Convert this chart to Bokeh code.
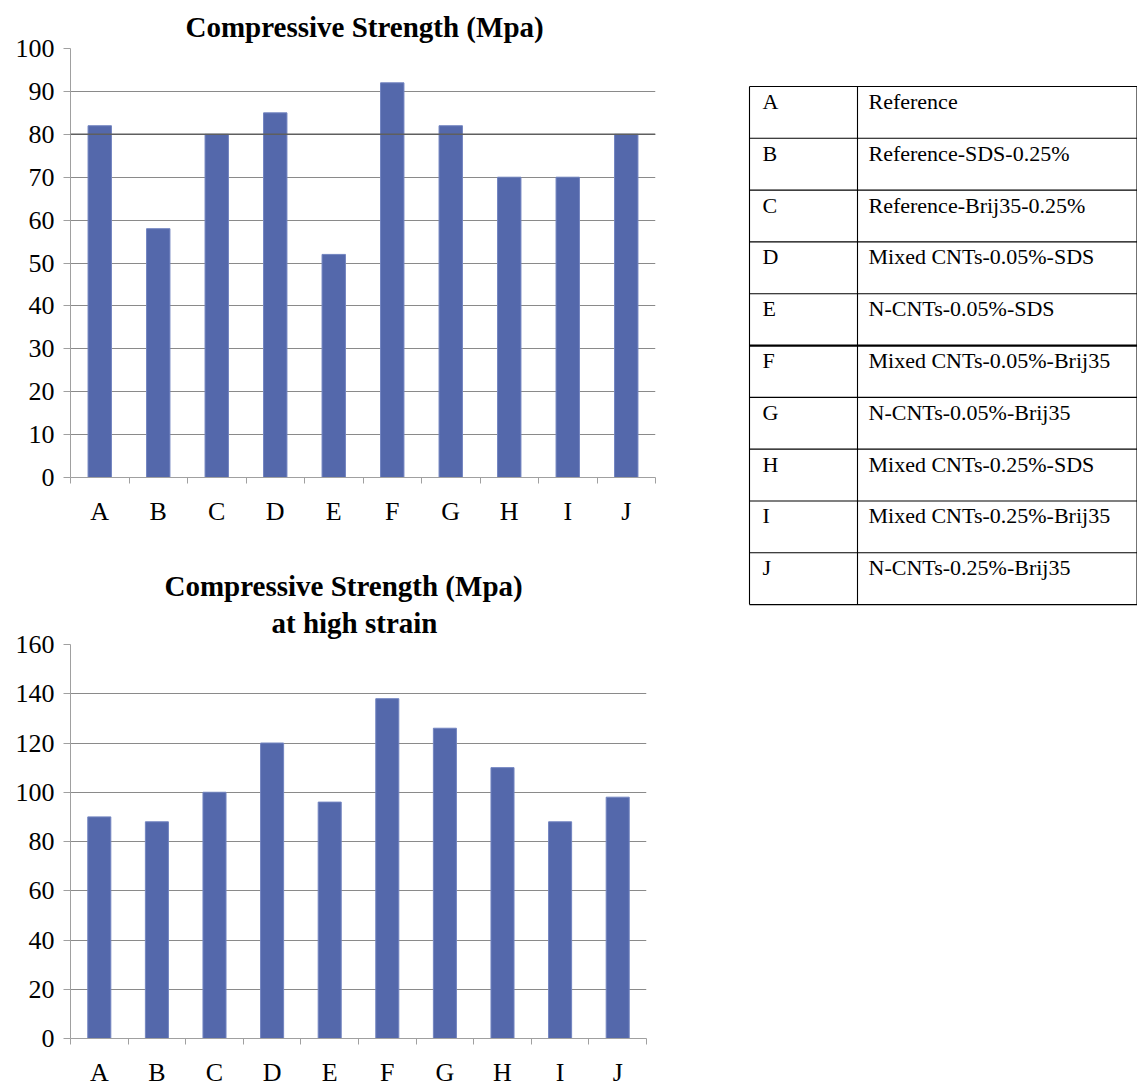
from bokeh.plotting import figure
from bokeh.layouts import row, column
from bokeh.models import Range1d, FixedTicker, Title, Span, ColumnDataSource
from bokeh.core.properties import value
from bokeh.embed import file_html
from bokeh.resources import INLINE

# Mix codes and compressive strength results
categories = ["A", "B", "C", "D", "E", "F", "G", "H", "I", "J"]
strength = [82, 58, 80, 85, 52, 92, 82, 70, 70, 80]
strength_high_strain = [90, 88, 100, 120, 96, 138, 126, 110, 88, 98]
descriptions = [
    "Reference",
    "Reference-SDS-0.25%",
    "Reference-Brij35-0.25%",
    "Mixed CNTs-0.05%-SDS",
    "N-CNTs-0.05%-SDS",
    "Mixed CNTs-0.05%-Brij35",
    "N-CNTs-0.05%-Brij35",
    "Mixed CNTs-0.25%-SDS",
    "Mixed CNTs-0.25%-Brij35",
    "N-CNTs-0.25%-Brij35",
]

SERIF = "Liberation Serif"
BAR_COLOR = "#5468AB"
GRID_COLOR = "#8a8a8a"
AXIS_COLOR = "#a0a0a0"


def bar_chart(values, y_max, y_step, width, height, border_top, border_bottom, titles):
    """titles: list of (text, left offset, standoff), nearest the frame first"""
    n = len(categories)
    p = figure(width=width, height=height,
               x_range=Range1d(0, n), y_range=Range1d(0, y_max),
               output_backend="svg", toolbar_location=None, title=None,
               min_border_left=70, min_border_right=25,
               min_border_top=border_top, min_border_bottom=border_bottom)
    p.outline_line_color = None
    p.background_fill_color = "white"
    p.border_fill_color = "white"

    for text, shift, gap in titles:
        t = Title(text=text, align="left", text_font=SERIF, text_font_size="29px",
                  text_font_style="bold", text_color="black",
                  standoff=gap, offset=shift)
        p.add_layout(t, "above")

    positions = [i + 0.5 for i in range(n)]
    src = ColumnDataSource(dict(x=positions, top=values, cat=categories))
    p.vbar(x="x", top="top", width=0.4, source=src,
           fill_color=BAR_COLOR, line_color="#7284c0", line_width=1)

    xa = p.xaxis[0]
    xa.ticker = FixedTicker(ticks=positions, minor_ticks=list(range(n + 1)))
    xa.major_label_overrides = {pos: c for pos, c in zip(positions, categories)}
    xa.major_tick_out = 0
    xa.major_tick_in = 0
    xa.minor_tick_out = 6
    xa.minor_tick_in = 0
    xa.minor_tick_line_color = AXIS_COLOR
    xa.axis_line_color = AXIS_COLOR
    xa.major_label_text_font = SERIF
    xa.major_label_text_font_size = "26px"
    xa.major_label_text_color = "black"
    xa.major_label_standoff = 13

    ya = p.yaxis[0]
    ya.ticker = FixedTicker(ticks=list(range(0, y_max + 1, y_step)), minor_ticks=[])
    ya.major_tick_out = 7
    ya.major_tick_in = 0
    ya.major_tick_line_color = AXIS_COLOR
    ya.axis_line_color = AXIS_COLOR
    ya.minor_tick_line_color = None
    ya.major_label_text_font = SERIF
    ya.major_label_text_font_size = "26px"
    ya.major_label_text_color = "black"
    ya.major_label_standoff = 9

    p.xgrid.visible = False
    p.ygrid.grid_line_color = GRID_COLOR
    p.ygrid.grid_line_width = 1
    return p


top = bar_chart(strength, 100, 10, 680, 545, 48, 68,
                [("Compressive Strength (Mpa)", 115, 11)])
# the 80 MPa gridline is drawn heavier
top.add_layout(Span(location=80, dimension="width", line_color="#5f5f5f", line_width=1.5))

bottom = bar_chart(strength_high_strain, 160, 20, 671, 544, 99, 48,
                   [("at high strain", 201, 11),
                    ("Compressive Strength (Mpa)", 94, -5)])

# key table: one row per mix code, rows counted downward
n_rows = len(categories)
tbl = figure(width=457, height=1089,
             x_range=Range1d(0, 457), y_range=Range1d(n_rows + 9.36, -1.66),
             output_backend="svg", toolbar_location=None,
             min_border=0, x_axis_type=None, y_axis_type=None)
tbl.outline_line_color = None
tbl.xgrid.visible = False
tbl.ygrid.visible = False
tbl.background_fill_color = "white"
tbl.border_fill_color = "white"

col_left, col_split, col_right = 69, 177, 456.5
row_edges = list(range(n_rows + 1))
widths = [2.2 if r == 5 else 1.1 for r in row_edges]
tbl.segment(x0=[col_left] * len(row_edges), x1=[col_right] * len(row_edges),
            y0=row_edges, y1=row_edges, line_color="black", line_width=widths)
tbl.segment(x0=[col_left, col_split, col_right], x1=[col_left, col_split, col_right],
            y0=[0, 0, 0], y1=[n_rows] * 3, line_color="black", line_width=1.1)

row_y = [i + 0.29 for i in range(n_rows)]
tbl.text(x=[82] * n_rows, y=row_y, text=categories,
         text_font=value(SERIF), text_font_size="22px", text_color="black",
         text_baseline="middle", text_align="left")
tbl.text(x=[188] * n_rows, y=row_y, text=descriptions,
         text_font=value(SERIF), text_font_size="22px", text_color="black",
         text_baseline="middle", text_align="left")

layout = row(column(top, bottom), tbl)
open("out.html", "w").write(file_html(layout, INLINE))
